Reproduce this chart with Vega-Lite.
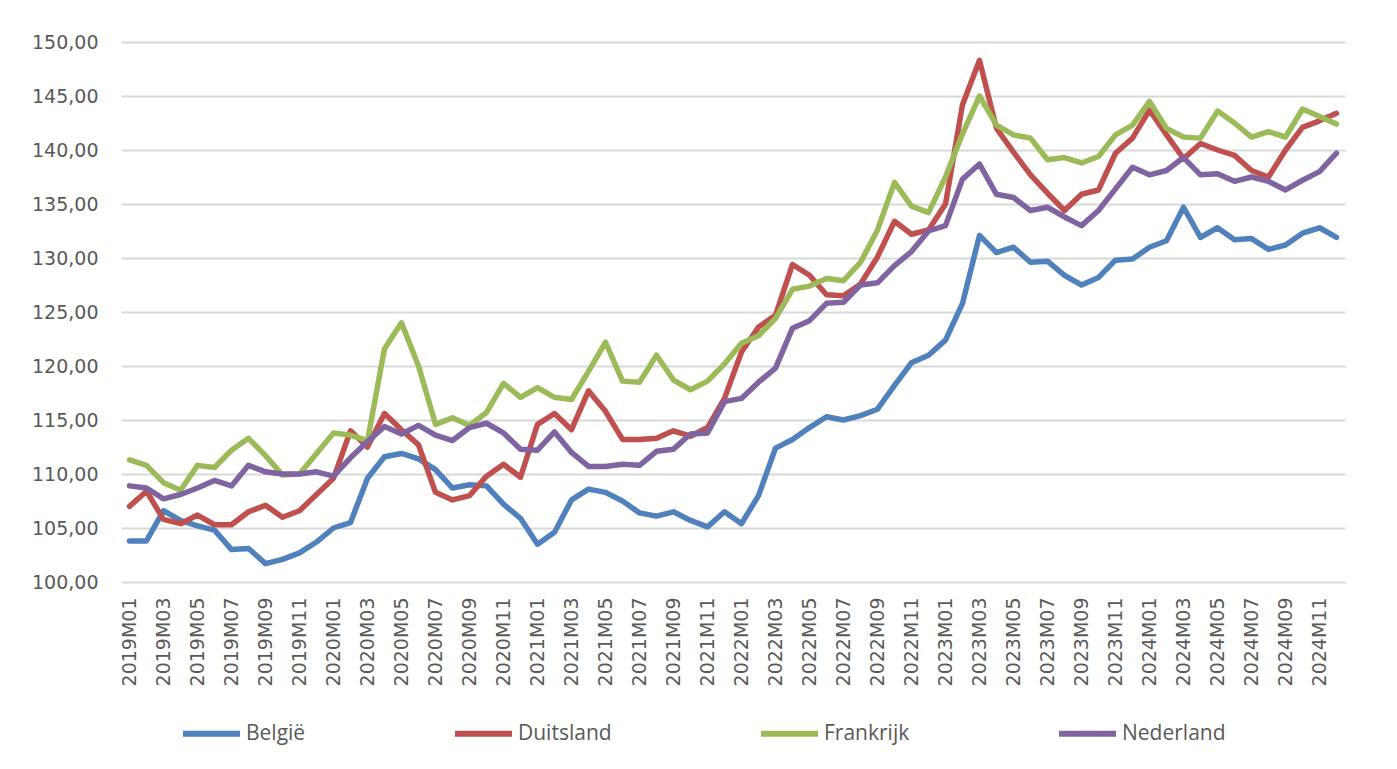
{
  "$schema": "https://vega.github.io/schema/vega-lite/v6.json",
  "autosize": "none",
  "width": 1224,
  "height": 540,
  "padding": {"left": 121, "top": 42, "right": 52, "bottom": 187},
  "background": "white",
  "data": {
    "values": [
      {"m":"2019M01","België":103.8,"Duitsland":107.0,"Frankrijk":111.3,"Nederland":108.9},
      {"m":"2019M02","België":103.8,"Duitsland":108.4,"Frankrijk":110.8,"Nederland":108.7},
      {"m":"2019M03","België":106.6,"Duitsland":105.8,"Frankrijk":109.2,"Nederland":107.7},
      {"m":"2019M04","België":105.7,"Duitsland":105.4,"Frankrijk":108.5,"Nederland":108.1},
      {"m":"2019M05","België":105.2,"Duitsland":106.2,"Frankrijk":110.8,"Nederland":108.7},
      {"m":"2019M06","België":104.8,"Duitsland":105.3,"Frankrijk":110.6,"Nederland":109.4},
      {"m":"2019M07","België":103.0,"Duitsland":105.3,"Frankrijk":112.2,"Nederland":108.9},
      {"m":"2019M08","België":103.1,"Duitsland":106.5,"Frankrijk":113.3,"Nederland":110.8},
      {"m":"2019M09","België":101.7,"Duitsland":107.1,"Frankrijk":111.7,"Nederland":110.2},
      {"m":"2019M10","België":102.1,"Duitsland":106.0,"Frankrijk":109.9,"Nederland":110.0},
      {"m":"2019M11","België":102.7,"Duitsland":106.6,"Frankrijk":110.0,"Nederland":110.0},
      {"m":"2019M12","België":103.7,"Duitsland":108.1,"Frankrijk":111.9,"Nederland":110.2},
      {"m":"2020M01","België":105.0,"Duitsland":109.6,"Frankrijk":113.8,"Nederland":109.8},
      {"m":"2020M02","België":105.5,"Duitsland":114.0,"Frankrijk":113.6,"Nederland":111.5},
      {"m":"2020M03","België":109.6,"Duitsland":112.5,"Frankrijk":113.1,"Nederland":113.0},
      {"m":"2020M04","België":111.6,"Duitsland":115.6,"Frankrijk":121.6,"Nederland":114.4},
      {"m":"2020M05","België":111.9,"Duitsland":114.1,"Frankrijk":124.0,"Nederland":113.7},
      {"m":"2020M06","België":111.4,"Duitsland":112.7,"Frankrijk":120.0,"Nederland":114.5},
      {"m":"2020M07","België":110.4,"Duitsland":108.3,"Frankrijk":114.6,"Nederland":113.6},
      {"m":"2020M08","België":108.7,"Duitsland":107.6,"Frankrijk":115.2,"Nederland":113.1},
      {"m":"2020M09","België":109.0,"Duitsland":108.0,"Frankrijk":114.5,"Nederland":114.3},
      {"m":"2020M10","België":108.9,"Duitsland":109.8,"Frankrijk":115.7,"Nederland":114.7},
      {"m":"2020M11","België":107.2,"Duitsland":110.9,"Frankrijk":118.4,"Nederland":113.8},
      {"m":"2020M12","België":105.9,"Duitsland":109.7,"Frankrijk":117.1,"Nederland":112.3},
      {"m":"2021M01","België":103.5,"Duitsland":114.6,"Frankrijk":118.0,"Nederland":112.2},
      {"m":"2021M02","België":104.6,"Duitsland":115.6,"Frankrijk":117.1,"Nederland":113.9},
      {"m":"2021M03","België":107.6,"Duitsland":114.1,"Frankrijk":116.9,"Nederland":112.0},
      {"m":"2021M04","België":108.6,"Duitsland":117.7,"Frankrijk":119.5,"Nederland":110.7},
      {"m":"2021M05","België":108.3,"Duitsland":115.8,"Frankrijk":122.2,"Nederland":110.7},
      {"m":"2021M06","België":107.5,"Duitsland":113.2,"Frankrijk":118.6,"Nederland":110.9},
      {"m":"2021M07","België":106.4,"Duitsland":113.2,"Frankrijk":118.5,"Nederland":110.8},
      {"m":"2021M08","België":106.1,"Duitsland":113.3,"Frankrijk":121.0,"Nederland":112.1},
      {"m":"2021M09","België":106.5,"Duitsland":114.0,"Frankrijk":118.7,"Nederland":112.3},
      {"m":"2021M10","België":105.7,"Duitsland":113.5,"Frankrijk":117.8,"Nederland":113.7},
      {"m":"2021M11","België":105.1,"Duitsland":114.3,"Frankrijk":118.6,"Nederland":113.8},
      {"m":"2021M12","België":106.5,"Duitsland":117.0,"Frankrijk":120.2,"Nederland":116.7},
      {"m":"2022M01","België":105.4,"Duitsland":121.3,"Frankrijk":122.1,"Nederland":117.0},
      {"m":"2022M02","België":108.0,"Duitsland":123.6,"Frankrijk":122.8,"Nederland":118.5},
      {"m":"2022M03","België":112.4,"Duitsland":124.7,"Frankrijk":124.4,"Nederland":119.8},
      {"m":"2022M04","België":113.2,"Duitsland":129.4,"Frankrijk":127.1,"Nederland":123.5},
      {"m":"2022M05","België":114.3,"Duitsland":128.4,"Frankrijk":127.4,"Nederland":124.2},
      {"m":"2022M06","België":115.3,"Duitsland":126.6,"Frankrijk":128.1,"Nederland":125.8},
      {"m":"2022M07","België":115.0,"Duitsland":126.5,"Frankrijk":127.9,"Nederland":125.9},
      {"m":"2022M08","België":115.4,"Duitsland":127.6,"Frankrijk":129.6,"Nederland":127.5},
      {"m":"2022M09","België":116.0,"Duitsland":130.1,"Frankrijk":132.6,"Nederland":127.7},
      {"m":"2022M10","België":118.2,"Duitsland":133.4,"Frankrijk":137.0,"Nederland":129.3},
      {"m":"2022M11","België":120.3,"Duitsland":132.2,"Frankrijk":134.8,"Nederland":130.6},
      {"m":"2022M12","België":121.0,"Duitsland":132.6,"Frankrijk":134.2,"Nederland":132.5},
      {"m":"2023M01","België":122.4,"Duitsland":135.0,"Frankrijk":137.5,"Nederland":133.0},
      {"m":"2023M02","België":125.8,"Duitsland":144.2,"Frankrijk":141.5,"Nederland":137.3},
      {"m":"2023M03","België":132.1,"Duitsland":148.3,"Frankrijk":145.0,"Nederland":138.7},
      {"m":"2023M04","België":130.5,"Duitsland":142.0,"Frankrijk":142.3,"Nederland":135.9},
      {"m":"2023M05","België":131.0,"Duitsland":139.8,"Frankrijk":141.4,"Nederland":135.6},
      {"m":"2023M06","België":129.6,"Duitsland":137.7,"Frankrijk":141.1,"Nederland":134.4},
      {"m":"2023M07","België":129.7,"Duitsland":136.0,"Frankrijk":139.1,"Nederland":134.7},
      {"m":"2023M08","België":128.4,"Duitsland":134.4,"Frankrijk":139.3,"Nederland":133.8},
      {"m":"2023M09","België":127.5,"Duitsland":135.9,"Frankrijk":138.8,"Nederland":133.0},
      {"m":"2023M10","België":128.2,"Duitsland":136.3,"Frankrijk":139.4,"Nederland":134.4},
      {"m":"2023M11","België":129.8,"Duitsland":139.7,"Frankrijk":141.4,"Nederland":136.4},
      {"m":"2023M12","België":129.9,"Duitsland":141.1,"Frankrijk":142.3,"Nederland":138.4},
      {"m":"2024M01","België":131.0,"Duitsland":143.7,"Frankrijk":144.5,"Nederland":137.7},
      {"m":"2024M02","België":131.6,"Duitsland":141.4,"Frankrijk":142.0,"Nederland":138.1},
      {"m":"2024M03","België":134.7,"Duitsland":139.2,"Frankrijk":141.2,"Nederland":139.3},
      {"m":"2024M04","België":131.9,"Duitsland":140.6,"Frankrijk":141.1,"Nederland":137.7},
      {"m":"2024M05","België":132.8,"Duitsland":140.0,"Frankrijk":143.6,"Nederland":137.8},
      {"m":"2024M06","België":131.7,"Duitsland":139.5,"Frankrijk":142.5,"Nederland":137.1},
      {"m":"2024M07","België":131.8,"Duitsland":138.1,"Frankrijk":141.2,"Nederland":137.5},
      {"m":"2024M08","België":130.8,"Duitsland":137.5,"Frankrijk":141.7,"Nederland":137.1},
      {"m":"2024M09","België":131.2,"Duitsland":140.0,"Frankrijk":141.2,"Nederland":136.3},
      {"m":"2024M10","België":132.3,"Duitsland":142.1,"Frankrijk":143.8,"Nederland":137.2},
      {"m":"2024M11","België":132.8,"Duitsland":142.7,"Frankrijk":143.1,"Nederland":138.0},
      {"m":"2024M12","België":131.9,"Duitsland":143.4,"Frankrijk":142.4,"Nederland":139.7}
    ]
  },
  "transform": [
    {"fold": ["België", "Duitsland", "Frankrijk", "Nederland"], "as": ["land", "waarde"]}
  ],
  "mark": {"type": "line", "strokeWidth": 5.5, "strokeJoin": "round", "strokeCap": "round"},
  "encoding": {
    "x": {
      "field": "m",
      "type": "ordinal",
      "sort": null,
      "scale": {"type": "point", "padding": 0.5},
      "axis": {
        "title": null,
        "domain": false,
        "ticks": false,
        "grid": false,
        "labelAngle": -90,
        "labelPadding": 15,
        "labelFont": "DejaVu Sans",
        "labelFontSize": 19,
        "labelColor": "#595959",
        "labelOverlap": false,
        "labelExpr": "parseInt(substring(datum.value, 5, 7)) % 2 == 1 ? datum.value : ''"
      }
    },
    "y": {
      "field": "waarde",
      "type": "quantitative",
      "scale": {"domain": [100, 150], "nice": false, "zero": false},
      "axis": {
        "title": null,
        "values": [100, 105, 110, 115, 120, 125, 130, 135, 140, 145, 150],
        "domain": false,
        "ticks": false,
        "grid": true,
        "gridColor": "#d9d9d9",
        "gridWidth": 2,
        "labelPadding": 23,
        "labelFont": "DejaVu Sans",
        "labelFontSize": 19,
        "labelColor": "#595959",
        "labelExpr": "replace(format(datum.value, '.2f'), '.', ',')"
      }
    },
    "color": {
      "field": "land",
      "type": "nominal",
      "scale": {
        "domain": ["België", "Duitsland", "Frankrijk", "Nederland"],
        "range": ["#4f81bd", "#c0504d", "#9bbb59", "#8064a2"]
      },
      "legend": {
        "title": null,
        "orient": "none",
        "direction": "horizontal",
        "legendX": 59,
        "legendY": 660,
        "symbolType": "stroke",
        "symbolSize": 3249,
        "symbolStrokeWidth": 6,
        "labelOffset": 3,
        "columnPadding": 137,
        "labelFont": "Open Sans",
        "labelFontSize": 21,
        "labelColor": "#595959"
      }
    }
  },
  "config": {"view": {"stroke": null}}
}
